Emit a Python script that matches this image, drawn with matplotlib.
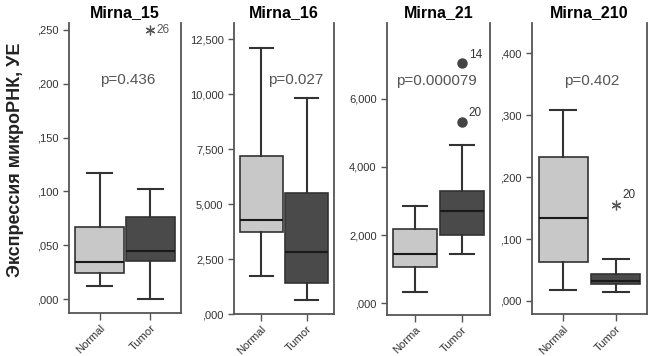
import matplotlib
matplotlib.use("Agg")
import matplotlib.pyplot as plt
from matplotlib.ticker import FuncFormatter

plt.rcParams['font.family'] = ['Liberation Sans', 'DejaVu Sans']

# box statistics: whislo, q1, median, q3, whishi
groups = ["Normal", "Tumor"]
titles = ["Mirna_15", "Mirna_16", "Mirna_21", "Mirna_210"]
p_values = ["p=0.436", "p=0.027", "p=0.000079", "p=0.402"]

normal_stats = [
    [0.012, 0.024, 0.034, 0.0666, 0.117],
    [1715, 3717, 4277, 7190, 12090],
    [322, 1055, 1445, 2168, 2860],
    [0.018, 0.0635, 0.134, 0.233, 0.309],
]
tumor_stats = [
    [0.000, 0.0356, 0.0443, 0.0765, 0.102],
    [637, 1397, 2807, 5492, 9815],
    [1445, 1992, 2696, 3290, 4629],
    [0.015, 0.027, 0.0323, 0.0436, 0.068],
]
# outliers of the Tumor group: (value, case number)
tumor_outliers = [
    [(0.250, "26")],
    [],
    [(7032, "14"), (5321, "20")],
    [(0.155, "20")],
]
outlier_marks = ["*", None, "o", "*"]

y_limits = [(-0.013, 0.2565), (0, 13240), (-343, 8213), (-0.021, 0.449)]
y_ticks = [
    [0, 0.05, 0.10, 0.15, 0.20, 0.25],
    [0, 2500, 5000, 7500, 10000, 12500],
    [0, 2000, 4000, 6000],
    [0, 0.1, 0.2, 0.3, 0.4],
]
tick_labels_x = [["Normal", "Tumor"], ["Normal", "Tumor"],
                 ["Norma", "Tumor"], ["Normal", "Tumor"]]


def small_fmt(v, pos):
    return ("%.3f" % v).lstrip("0").replace(".", ",")


def big_fmt(v, pos):
    if v == 0:
        return ",000"
    return "{:,}".format(int(v // 1000)) + "," + "%03d" % int(round(v % 1000))


formatters = [small_fmt, big_fmt, big_fmt, small_fmt]

W, H = 661, 356
fig = plt.figure(figsize=(W / 100, H / 100), dpi=100)
# axes boxes in pixels: left, right, top, bottom
boxes_px = [(69, 181, 23, 313), (234, 334, 23, 314), (387, 490, 23, 315), (532, 647, 23, 314)]
p_pos = [(0.55, 0.2035), (0.75, 10650), (0.45, 6513), (0.55, 0.3554)]

edge = "#333333"
spine_col = "#555555"
asterisk = (6, 2, 0)

for i in range(4):
    l, r, t, b = boxes_px[i]
    ax = fig.add_axes([l / W, 1 - b / H, (r - l) / W, (b - t) / H])
    stats = []
    for name, s in zip(groups, [normal_stats[i], tumor_stats[i]]):
        stats.append(dict(label=name, whislo=s[0], q1=s[1], med=s[2], q3=s[3], whishi=s[4], fliers=[]))
    bp = ax.bxp(stats, positions=[0, 1], widths=0.95, patch_artist=True, showfliers=False,
                boxprops=dict(edgecolor=edge, linewidth=1.2),
                whiskerprops=dict(color=edge, linewidth=1.5),
                capprops=dict(color=edge, linewidth=1.5),
                medianprops=dict(color="#1a1a1a", linewidth=1.5),
                capwidths=0.5)
    bp['boxes'][0].set_facecolor("#c8c8c8")
    bp['boxes'][1].set_facecolor("#4a4a4a")

    for val, lab in tumor_outliers[i]:
        if outlier_marks[i] == "o":
            ax.plot(1, val, "o", color="#444444", markersize=6.5)
            ax.annotate(lab, (1, val), xytext=(5, 4), textcoords="offset points",
                        fontsize=8.5, color="#333333")
        else:
            ax.plot(1, val, marker=asterisk, color="#555555", markersize=7,
                    markeredgewidth=0.9, clip_on=False)
            if i == 0:
                ax.annotate(lab, (1, val), xytext=(4, 0), textcoords="offset points",
                            fontsize=8.5, color="#555555", va="center")
            else:
                ax.annotate(lab, (1, val), xytext=(5, 5), textcoords="offset points",
                            fontsize=8.5, color="#333333")

    ax.text(p_pos[i][0], p_pos[i][1], p_values[i], fontsize=11, color="#555555",
            ha="center", va="center")

    ax.set_xlim(-0.6, 1.6)
    ax.set_ylim(*y_limits[i])
    ax.set_yticks(y_ticks[i])
    ax.yaxis.set_major_formatter(FuncFormatter(formatters[i]))
    ax.set_xticks([0, 1])
    ax.set_xticklabels(tick_labels_x[i], rotation=45, ha="right", rotation_mode="anchor",
                       fontsize=8, color="#333333")
    ax.tick_params(axis="y", labelsize=8, labelcolor="#333333", color=spine_col, length=4, width=1)
    ax.tick_params(axis="x", color=spine_col, length=5, width=1, pad=2)
    ax.spines["top"].set_visible(False)
    for s in ["left", "right", "bottom"]:
        ax.spines[s].set_color(spine_col)
        ax.spines[s].set_linewidth(1.3)
    ax.set_title(titles[i], fontsize=11.5, fontweight="bold", pad=4)
    ax.set_facecolor("white")

fig.text(16 / W, 1 - 160 / H, "Экспрессия микроРНК, УЕ", rotation=90, fontsize=13,
         fontweight="bold", ha="center", va="center", color="#222222")

fig.savefig("out.png", dpi=100)
